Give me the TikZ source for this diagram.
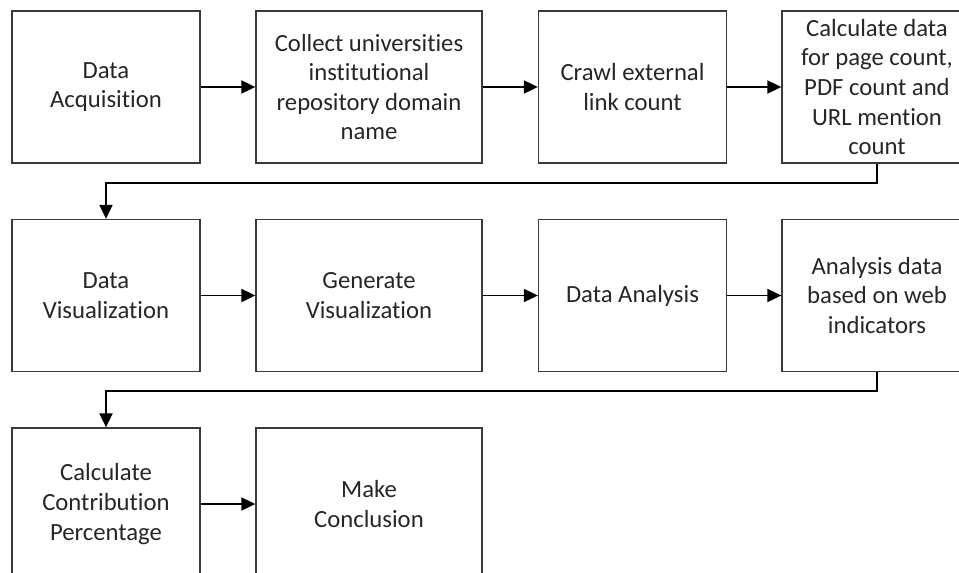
\documentclass[tikz,border=0pt]{standalone}
\usepackage{fontspec}
\setmainfont{Carlito}[Ligatures=NoCommon]
\usetikzlibrary{arrows.meta}
\definecolor{txt}{HTML}{262626}
\definecolor{edge}{HTML}{3A3A3A}
\begin{document}
\begin{tikzpicture}[x=1pt,y=1pt,
  stepbox/.style={draw=edge,line width=1.3pt,rectangle,inner sep=0pt,align=center,
    minimum height=152pt,text=txt,font=\fontsize{24.7}{29.6}\selectfont},
  narrow/.style={stepbox,minimum width=188pt},
  wide/.style={stepbox,minimum width=226pt},
  conn/.style={line width=1.9pt,black,-{Triangle[length=14pt,width=13pt]}}]
\clip (0,0) rectangle (959,-573);
\fill[white] (0,0) rectangle (959,-573);
% row 1
\node[narrow] (b1) at (106,-87) {Data\\Acquisition};
\node[wide] (b2) at (369,-87) {Collect universities\\institutional\\repository domain\\name};
\node[narrow] (b3) at (632.5,-87) {Crawl external\\link count};
\node[stepbox,minimum width=190pt] (b4) at (877,-87) {Calculate data\\for page count,\\PDF count and\\URL mention\\count};
% row 2
\node[narrow] (b5) at (106,-295.5) {Data\\Visualization};
\node[wide] (b6) at (369,-295.5) {Generate\\Visualization};
\node[narrow] (b7) at (632.5,-295.5) {Data Analysis};
\node[stepbox,minimum width=190pt] (b8) at (877,-295.5) {Analysis data\\based on web\\indicators};
% row 3
\node[narrow] (b9) at (106,-504) {Calculate\\Contribution\\Percentage};
\node[wide] (b10) at (369,-504) {Make\\Conclusion};
% connectors
\draw[conn] (b1) -- (b2);
\draw[conn] (b2) -- (b3);
\draw[conn] (b3) -- (b4);
\draw[conn] (b5) -- (b6);
\draw[conn] (b6) -- (b7);
\draw[conn] (b7) -- (b8);
\draw[conn] (b9) -- (b10);
\draw[conn] (b4.south) -- ++(0,-19) -| (b5.north);
\draw[conn] (b8.south) -- ++(0,-19) -| (b9.north);
\end{tikzpicture}
\end{document}
